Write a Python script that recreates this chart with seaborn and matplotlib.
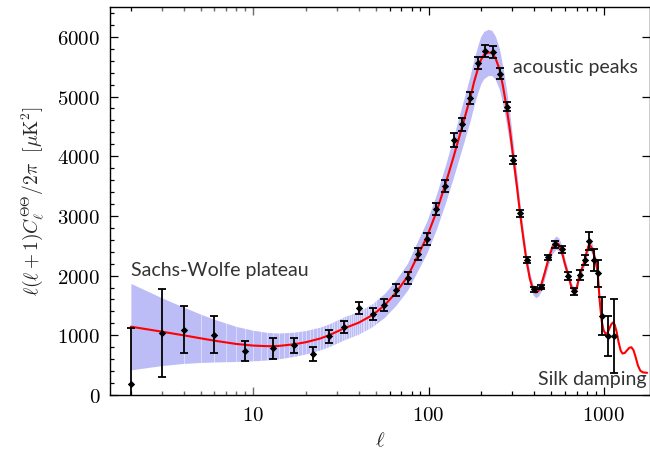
import numpy as np
import pandas as pd
import matplotlib
matplotlib.use("Agg")
import matplotlib.pyplot as plt
import seaborn as sns
from matplotlib.ticker import FixedLocator, FuncFormatter, MultipleLocator, NullFormatter, LogLocator

# Best-fit model spectrum D_ell = ell(ell+1)C_ell/2pi  [muK^2]
curve_ell = [2, 3, 4, 5, 6, 8, 10, 12, 14, 17, 20, 24, 27, 33, 40, 48, 56, 65, 76, 87,
             98, 111, 125, 140, 156, 173, 182, 192, 199, 207, 219, 230, 241, 254, 266, 279, 292, 306, 320, 333,
             348, 362, 378, 395, 410, 425, 436, 460, 485, 510, 534, 555, 577, 600, 629, 655, 683, 705, 725, 750,
             775, 800, 826, 860, 891, 923, 950, 975, 1000, 1030, 1055, 1080, 1105, 1130, 1155, 1185, 1215, 1250, 1280, 1320,
             1360, 1400, 1440, 1480, 1520, 1570, 1620, 1680, 1770]
curve_d = [1145, 1061, 1000, 950, 910, 855, 828, 818, 822, 849, 885, 945, 1000, 1117, 1212, 1341, 1500, 1710, 1985, 2340,
           2650, 3070, 3535, 4021, 4507, 4976, 5244, 5478, 5612, 5696, 5738, 5730, 5646, 5461, 5176, 4820, 4423, 3937, 3485, 3044,
           2620, 2262, 1960, 1765, 1715, 1745, 1805, 2040, 2290, 2480, 2553, 2520, 2400, 2200, 1994, 1800, 1731, 1820, 1994, 2110,
           2234, 2400, 2530, 2450, 2290, 2066, 1563, 1228, 1080, 1015, 1050, 1120, 1185, 1215, 1180, 1060, 890, 745, 695, 705,
           750, 790, 800, 750, 640, 490, 405, 378, 372]

# Cosmic-variance band around the model
band_ell = curve_ell[:69]
band_lo = [421, 493, 529, 545, 553, 562, 572, 587, 606, 646, 689, 754, 809, 924, 1022, 1148, 1300, 1498, 1759, 2090,
           2382, 2779, 3219, 3682, 4147, 4598, 4856, 5083, 5215, 5301, 5351, 5352, 5283, 5119, 4859, 4532, 4164, 3712, 3291, 2877,
           2480, 2143, 1859, 1676, 1630, 1660, 1719, 1945, 2186, 2370, 2442, 2413, 2300, 2110, 1914, 1730, 1665, 1752, 1920, 2033,
           2154, 2315, 2442, 2366, 2213, 1998, 1512, 1189, 1046]
band_hi = [1869, 1629, 1471, 1355, 1267, 1148, 1084, 1049, 1038, 1052, 1081, 1136, 1191, 1310, 1402, 1534, 1700, 1922, 2211, 2590,
           2918, 3361, 3851, 4360, 4867, 5354, 5632, 5873, 6009, 6091, 6125, 6108, 6009, 5803, 5493, 5108, 4682, 4162, 3679, 3211,
           2760, 2381, 2061, 1854, 1800, 1830, 1891, 2135, 2394, 2590, 2664, 2627, 2500, 2290, 2074, 1870, 1797, 1888, 2068, 2187,
           2314, 2485, 2618, 2534, 2367, 2134, 1614, 1267, 1114]

# Binned measurements
data_ell = [2, 3, 4, 6, 9, 13, 17, 22, 27, 33, 40, 48, 56, 65, 76, 87, 98, 111, 125, 140,
            156, 173, 191, 211, 232, 255, 279, 305, 333, 365, 400, 439, 481, 529, 580, 626, 680, 729, 779, 828,
            877, 932, 978, 1058, 1149]
data_d = [189, 1039, 1094, 1011, 737, 782, 832, 682, 983, 1134, 1453, 1357, 1514, 1765, 1956, 2363, 2614, 3112, 3508, 4273,
          4536, 4972, 5564, 5765, 5743, 5380, 4832, 3938, 3045, 2262, 1771, 1810, 2307, 2525, 2442, 1994, 1738, 2006, 2257, 2586,
          2257, 2039, 1324, 983, 983]
data_err = [928, 732, 397, 307, 173, 173, 126, 118, 109, 100, 98, 98, 100, 100, 100, 100, 103, 98, 100, 120,
            105, 100, 100, 103, 100, 90, 75, 70, 56, 45, 40, 40, 45, 56, 56, 67, 56, 84, 84, 150,
            185, 225, 312, 338, 620]

x_ticks = [10, 100, 1000]
y_ticks = [0, 1000, 2000, 3000, 4000, 5000, 6000]

annotations = [("Sachs-Wolfe plateau", 2.0, 1990, "left"),
               ("acoustic peaks", 304, 5400, "left"),
               ("Silk damping", 1750, 165, "right")]

sns.set_theme(style="ticks")
plt.rcParams["font.family"] = ["Lato", "DejaVu Sans"]
plt.rcParams["mathtext.fontset"] = "cm"

fig = plt.figure(figsize=(6.5, 4.59), dpi=100)
W, H = 650, 459
ax = fig.add_axes([110 / W, 1 - 395 / H, (649.5 - 110) / W, (395 - 7) / H])

ax.fill_between(band_ell, band_lo, band_hi, color="#bcbcf6", lw=0, zorder=1)
ax.vlines(np.arange(3, 51), 0, 1, transform=ax.get_xaxis_transform(),
          colors="white", lw=0.7, alpha=0.45, zorder=1.5)

sns.lineplot(x=curve_ell, y=curve_d, color="#ff0000", lw=1.5, sort=False,
             estimator=None, ax=ax, zorder=3)
ax.errorbar(data_ell, data_d, yerr=data_err, fmt="none", ecolor="black",
            elinewidth=1.3, capsize=2.6, capthick=1.3, zorder=4)
sns.scatterplot(x=data_ell, y=data_d, marker="D", s=14, color="black",
                edgecolor="black", linewidth=0, ax=ax, zorder=5)

ax.set_xscale("log")
ax.set_xlim(1.52, 1826)
ax.set_ylim(0, 6500)

ax.xaxis.set_major_locator(FixedLocator(x_ticks))
ax.xaxis.set_minor_locator(LogLocator(base=10, subs=np.arange(2, 10)))
ax.xaxis.set_minor_formatter(NullFormatter())
ax.xaxis.set_major_formatter(FuncFormatter(lambda v, p: r"$%d$" % v))
ax.yaxis.set_major_locator(FixedLocator(y_ticks))
ax.yaxis.set_minor_locator(MultipleLocator(200))
ax.yaxis.set_major_formatter(FuncFormatter(lambda v, p: r"$%d$" % v))

ax.tick_params(which="both", direction="in", top=True, right=True, colors="black",
               labelsize=15, width=0.9)
ax.tick_params(which="major", length=6, pad=7)
ax.tick_params(which="minor", length=3)
ax.tick_params(axis="y", which="minor", right=False)

for s in ax.spines.values():
    s.set_linewidth(1.0)
    s.set_color("black")

ax.set_xlabel(r"$\ell$", fontsize=15, labelpad=4)
ax.set_ylabel(r"$\ell(\ell+1)C_\ell^{\Theta\Theta}/2\pi\ \ [\mu\mathrm{K}^2]$", fontsize=14, labelpad=8)

for txt, xv, yv, ha in annotations:
    ax.text(xv, yv, txt, ha=ha, va="baseline", fontsize=14, color="#333333", zorder=6)

fig.savefig("out.png", dpi=100)
